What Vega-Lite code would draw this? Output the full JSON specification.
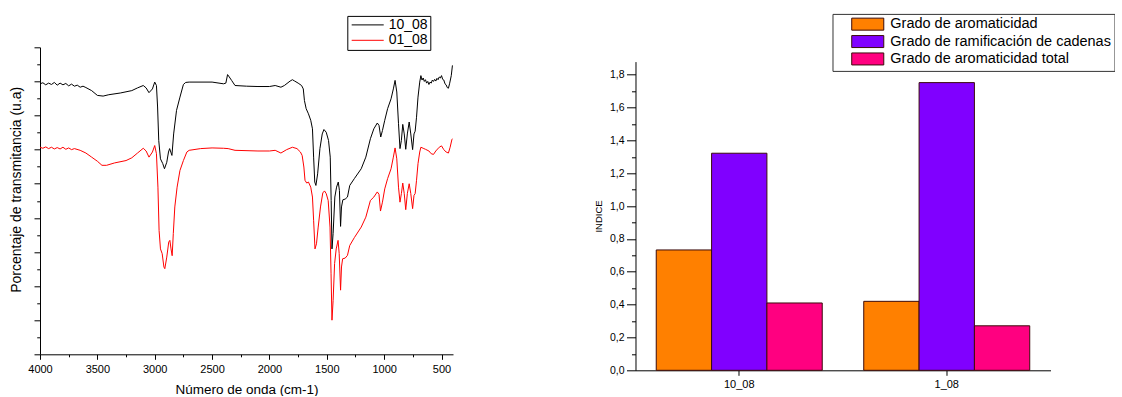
{
  "$schema": "https://vega.github.io/schema/vega-lite/v6.json",
  "padding": {"left": 9, "top": 13.3, "right": 0, "bottom": 0},
  "spacing": 137.5,
  "resolve": {"scale": {"color": "independent"}, "legend": {"color": "independent"}},
  "config": {
    "font": "Liberation Sans",
    "view": {"stroke": null},
    "axis": {
      "grid": false,
      "domainColor": "#000000",
      "tickColor": "#000000",
      "labelColor": "#000000",
      "titleColor": "#000000",
      "titleFontWeight": "normal",
      "labelFont": "Liberation Sans",
      "titleFont": "Liberation Sans",
      "labelFlush": false,
      "labelOverlap": false
    },
    "legend": {"labelFont": "Liberation Sans", "labelColor": "#000000"}
  },
  "datasets": {
    "espectros": [
      {"wn": 4000, "t": 7.93, "s": "10_08"}, {"wn": 3975, "t": 7.96, "s": "10_08"}, {"wn": 3950, "t": 7.9, "s": "10_08"},
      {"wn": 3925, "t": 7.95, "s": "10_08"}, {"wn": 3900, "t": 7.91, "s": "10_08"}, {"wn": 3875, "t": 7.97, "s": "10_08"},
      {"wn": 3850, "t": 7.89, "s": "10_08"}, {"wn": 3825, "t": 7.95, "s": "10_08"}, {"wn": 3800, "t": 7.9, "s": "10_08"},
      {"wn": 3775, "t": 7.94, "s": "10_08"}, {"wn": 3750, "t": 7.87, "s": "10_08"}, {"wn": 3725, "t": 7.92, "s": "10_08"},
      {"wn": 3700, "t": 7.86, "s": "10_08"}, {"wn": 3675, "t": 7.89, "s": "10_08"}, {"wn": 3650, "t": 7.83, "s": "10_08"},
      {"wn": 3625, "t": 7.86, "s": "10_08"}, {"wn": 3600, "t": 7.82, "s": "10_08"},
      {"wn": 3550, "t": 7.73, "s": "10_08"}, {"wn": 3500, "t": 7.59, "s": "10_08"}, {"wn": 3450, "t": 7.57, "s": "10_08"},
      {"wn": 3400, "t": 7.61, "s": "10_08"}, {"wn": 3300, "t": 7.66, "s": "10_08"}, {"wn": 3200, "t": 7.73, "s": "10_08"},
      {"wn": 3150, "t": 7.81, "s": "10_08"}, {"wn": 3100, "t": 7.88, "s": "10_08"}, {"wn": 3075, "t": 7.81, "s": "10_08"},
      {"wn": 3050, "t": 7.67, "s": "10_08"}, {"wn": 3020, "t": 7.78, "s": "10_08"}, {"wn": 3000, "t": 7.98, "s": "10_08"},
      {"wn": 2985, "t": 7.88, "s": "10_08"}, {"wn": 2975, "t": 7.25, "s": "10_08"}, {"wn": 2965, "t": 6.27, "s": "10_08"},
      {"wn": 2950, "t": 5.73, "s": "10_08"}, {"wn": 2930, "t": 5.59, "s": "10_08"}, {"wn": 2915, "t": 5.44, "s": "10_08"},
      {"wn": 2895, "t": 5.63, "s": "10_08"}, {"wn": 2880, "t": 5.93, "s": "10_08"}, {"wn": 2870, "t": 6.03, "s": "10_08"},
      {"wn": 2860, "t": 5.93, "s": "10_08"}, {"wn": 2850, "t": 5.83, "s": "10_08"}, {"wn": 2835, "t": 6.46, "s": "10_08"},
      {"wn": 2810, "t": 7.15, "s": "10_08"}, {"wn": 2780, "t": 7.54, "s": "10_08"}, {"wn": 2750, "t": 7.91, "s": "10_08"},
      {"wn": 2730, "t": 7.97, "s": "10_08"}, {"wn": 2700, "t": 7.98, "s": "10_08"}, {"wn": 2500, "t": 7.98, "s": "10_08"},
      {"wn": 2400, "t": 7.93, "s": "10_08"}, {"wn": 2380, "t": 7.95, "s": "10_08"}, {"wn": 2365, "t": 8.2, "s": "10_08"},
      {"wn": 2350, "t": 8.13, "s": "10_08"}, {"wn": 2330, "t": 8.03, "s": "10_08"}, {"wn": 2300, "t": 7.88, "s": "10_08"},
      {"wn": 2200, "t": 7.86, "s": "10_08"}, {"wn": 2100, "t": 7.85, "s": "10_08"}, {"wn": 2000, "t": 7.85, "s": "10_08"},
      {"wn": 1950, "t": 7.88, "s": "10_08"}, {"wn": 1900, "t": 7.83, "s": "10_08"}, {"wn": 1870, "t": 7.88, "s": "10_08"},
      {"wn": 1820, "t": 8.01, "s": "10_08"}, {"wn": 1800, "t": 8.05, "s": "10_08"}, {"wn": 1780, "t": 8.01, "s": "10_08"},
      {"wn": 1750, "t": 7.95, "s": "10_08"}, {"wn": 1720, "t": 7.88, "s": "10_08"}, {"wn": 1705, "t": 7.78, "s": "10_08"},
      {"wn": 1695, "t": 7.44, "s": "10_08"}, {"wn": 1680, "t": 7.2, "s": "10_08"}, {"wn": 1660, "t": 7.05, "s": "10_08"},
      {"wn": 1640, "t": 6.86, "s": "10_08"}, {"wn": 1625, "t": 6.61, "s": "10_08"}, {"wn": 1615, "t": 5.78, "s": "10_08"},
      {"wn": 1605, "t": 5.05, "s": "10_08"}, {"wn": 1595, "t": 4.95, "s": "10_08"}, {"wn": 1580, "t": 5.29, "s": "10_08"},
      {"wn": 1560, "t": 6.03, "s": "10_08"}, {"wn": 1540, "t": 6.46, "s": "10_08"}, {"wn": 1525, "t": 6.59, "s": "10_08"},
      {"wn": 1505, "t": 6.51, "s": "10_08"}, {"wn": 1485, "t": 6.27, "s": "10_08"}, {"wn": 1470, "t": 5.78, "s": "10_08"},
      {"wn": 1462, "t": 4.51, "s": "10_08"}, {"wn": 1455, "t": 3.09, "s": "10_08"}, {"wn": 1445, "t": 3.54, "s": "10_08"},
      {"wn": 1430, "t": 4.61, "s": "10_08"}, {"wn": 1415, "t": 4.9, "s": "10_08"}, {"wn": 1400, "t": 5.05, "s": "10_08"},
      {"wn": 1390, "t": 4.8, "s": "10_08"}, {"wn": 1380, "t": 3.75, "s": "10_08"}, {"wn": 1372, "t": 4.32, "s": "10_08"},
      {"wn": 1360, "t": 4.53, "s": "10_08"}, {"wn": 1340, "t": 4.55, "s": "10_08"}, {"wn": 1320, "t": 4.61, "s": "10_08"},
      {"wn": 1300, "t": 4.95, "s": "10_08"}, {"wn": 1260, "t": 5.15, "s": "10_08"}, {"wn": 1200, "t": 5.44, "s": "10_08"},
      {"wn": 1160, "t": 5.78, "s": "10_08"}, {"wn": 1120, "t": 6.32, "s": "10_08"}, {"wn": 1090, "t": 6.61, "s": "10_08"},
      {"wn": 1060, "t": 6.78, "s": "10_08"}, {"wn": 1045, "t": 6.71, "s": "10_08"}, {"wn": 1030, "t": 6.37, "s": "10_08"},
      {"wn": 1015, "t": 6.56, "s": "10_08"}, {"wn": 995, "t": 6.86, "s": "10_08"}, {"wn": 970, "t": 7.2, "s": "10_08"},
      {"wn": 940, "t": 7.49, "s": "10_08"}, {"wn": 920, "t": 7.78, "s": "10_08"}, {"wn": 905, "t": 8.03, "s": "10_08"},
      {"wn": 890, "t": 7.69, "s": "10_08"}, {"wn": 875, "t": 6.76, "s": "10_08"}, {"wn": 862, "t": 6.03, "s": "10_08"},
      {"wn": 850, "t": 6.27, "s": "10_08"}, {"wn": 838, "t": 6.74, "s": "10_08"}, {"wn": 825, "t": 6.46, "s": "10_08"},
      {"wn": 812, "t": 6.01, "s": "10_08"}, {"wn": 798, "t": 6.46, "s": "10_08"}, {"wn": 782, "t": 6.81, "s": "10_08"},
      {"wn": 768, "t": 6.46, "s": "10_08"}, {"wn": 752, "t": 6.0, "s": "10_08"}, {"wn": 740, "t": 6.46, "s": "10_08"},
      {"wn": 730, "t": 6.54, "s": "10_08"}, {"wn": 718, "t": 6.95, "s": "10_08"}, {"wn": 705, "t": 7.54, "s": "10_08"},
      {"wn": 690, "t": 7.98, "s": "10_08"}, {"wn": 680, "t": 8.17, "s": "10_08"}, {"wn": 670, "t": 8.04, "s": "10_08"},
      {"wn": 660, "t": 8.1, "s": "10_08"}, {"wn": 650, "t": 8.0, "s": "10_08"}, {"wn": 640, "t": 8.05, "s": "10_08"},
      {"wn": 630, "t": 7.95, "s": "10_08"}, {"wn": 620, "t": 8.0, "s": "10_08"}, {"wn": 610, "t": 7.91, "s": "10_08"},
      {"wn": 600, "t": 7.98, "s": "10_08"}, {"wn": 590, "t": 7.95, "s": "10_08"}, {"wn": 580, "t": 8.04, "s": "10_08"},
      {"wn": 570, "t": 8.0, "s": "10_08"}, {"wn": 560, "t": 8.06, "s": "10_08"}, {"wn": 550, "t": 8.01, "s": "10_08"},
      {"wn": 540, "t": 8.09, "s": "10_08"}, {"wn": 530, "t": 8.05, "s": "10_08"}, {"wn": 520, "t": 8.13, "s": "10_08"},
      {"wn": 510, "t": 8.1, "s": "10_08"}, {"wn": 500, "t": 8.17, "s": "10_08"}, {"wn": 490, "t": 8.06, "s": "10_08"},
      {"wn": 480, "t": 8.04, "s": "10_08"}, {"wn": 470, "t": 7.93, "s": "10_08"}, {"wn": 460, "t": 7.9, "s": "10_08"},
      {"wn": 450, "t": 7.82, "s": "10_08"}, {"wn": 440, "t": 7.8, "s": "10_08"}, {"wn": 430, "t": 7.93, "s": "10_08"},
      {"wn": 415, "t": 8.17, "s": "10_08"}, {"wn": 405, "t": 8.47, "s": "10_08"},

      {"wn": 4000, "t": 6.07, "s": "01_08"}, {"wn": 3975, "t": 6.04, "s": "01_08"}, {"wn": 3950, "t": 6.08, "s": "01_08"},
      {"wn": 3925, "t": 6.03, "s": "01_08"}, {"wn": 3900, "t": 6.07, "s": "01_08"}, {"wn": 3875, "t": 6.02, "s": "01_08"},
      {"wn": 3850, "t": 6.06, "s": "01_08"}, {"wn": 3825, "t": 6.02, "s": "01_08"}, {"wn": 3800, "t": 6.07, "s": "01_08"},
      {"wn": 3775, "t": 6.01, "s": "01_08"}, {"wn": 3750, "t": 6.05, "s": "01_08"}, {"wn": 3725, "t": 6.0, "s": "01_08"},
      {"wn": 3700, "t": 6.03, "s": "01_08"}, {"wn": 3650, "t": 5.98, "s": "01_08"}, {"wn": 3600, "t": 5.9, "s": "01_08"},
      {"wn": 3550, "t": 5.78, "s": "01_08"}, {"wn": 3500, "t": 5.66, "s": "01_08"}, {"wn": 3460, "t": 5.54, "s": "01_08"},
      {"wn": 3420, "t": 5.54, "s": "01_08"}, {"wn": 3350, "t": 5.61, "s": "01_08"}, {"wn": 3250, "t": 5.68, "s": "01_08"},
      {"wn": 3200, "t": 5.76, "s": "01_08"}, {"wn": 3150, "t": 5.9, "s": "01_08"}, {"wn": 3100, "t": 6.04, "s": "01_08"},
      {"wn": 3075, "t": 5.96, "s": "01_08"}, {"wn": 3050, "t": 5.78, "s": "01_08"}, {"wn": 3020, "t": 5.93, "s": "01_08"},
      {"wn": 3000, "t": 6.12, "s": "01_08"}, {"wn": 2985, "t": 5.88, "s": "01_08"}, {"wn": 2972, "t": 4.9, "s": "01_08"},
      {"wn": 2962, "t": 3.63, "s": "01_08"}, {"wn": 2950, "t": 3.09, "s": "01_08"}, {"wn": 2935, "t": 2.95, "s": "01_08"},
      {"wn": 2920, "t": 2.56, "s": "01_08"}, {"wn": 2912, "t": 2.51, "s": "01_08"}, {"wn": 2895, "t": 2.85, "s": "01_08"},
      {"wn": 2878, "t": 3.29, "s": "01_08"}, {"wn": 2868, "t": 3.34, "s": "01_08"}, {"wn": 2858, "t": 3.09, "s": "01_08"},
      {"wn": 2848, "t": 2.89, "s": "01_08"}, {"wn": 2838, "t": 3.54, "s": "01_08"}, {"wn": 2825, "t": 4.32, "s": "01_08"},
      {"wn": 2805, "t": 4.9, "s": "01_08"}, {"wn": 2780, "t": 5.39, "s": "01_08"}, {"wn": 2750, "t": 5.68, "s": "01_08"},
      {"wn": 2720, "t": 5.93, "s": "01_08"}, {"wn": 2700, "t": 5.98, "s": "01_08"}, {"wn": 2600, "t": 6.03, "s": "01_08"},
      {"wn": 2500, "t": 6.05, "s": "01_08"}, {"wn": 2400, "t": 6.04, "s": "01_08"}, {"wn": 2360, "t": 6.03, "s": "01_08"},
      {"wn": 2300, "t": 5.98, "s": "01_08"}, {"wn": 2100, "t": 5.96, "s": "01_08"}, {"wn": 2000, "t": 5.96, "s": "01_08"},
      {"wn": 1950, "t": 5.98, "s": "01_08"}, {"wn": 1900, "t": 5.9, "s": "01_08"}, {"wn": 1850, "t": 6.0, "s": "01_08"},
      {"wn": 1800, "t": 6.07, "s": "01_08"}, {"wn": 1760, "t": 6.03, "s": "01_08"}, {"wn": 1730, "t": 5.93, "s": "01_08"},
      {"wn": 1715, "t": 5.83, "s": "01_08"}, {"wn": 1700, "t": 5.49, "s": "01_08"}, {"wn": 1690, "t": 5.1, "s": "01_08"},
      {"wn": 1675, "t": 5.02, "s": "01_08"}, {"wn": 1660, "t": 5.05, "s": "01_08"}, {"wn": 1640, "t": 4.9, "s": "01_08"},
      {"wn": 1625, "t": 4.61, "s": "01_08"}, {"wn": 1615, "t": 3.93, "s": "01_08"}, {"wn": 1603, "t": 3.09, "s": "01_08"},
      {"wn": 1590, "t": 3.24, "s": "01_08"}, {"wn": 1575, "t": 3.73, "s": "01_08"}, {"wn": 1555, "t": 4.32, "s": "01_08"},
      {"wn": 1535, "t": 4.73, "s": "01_08"}, {"wn": 1520, "t": 4.79, "s": "01_08"}, {"wn": 1505, "t": 4.71, "s": "01_08"},
      {"wn": 1488, "t": 4.51, "s": "01_08"}, {"wn": 1472, "t": 3.73, "s": "01_08"}, {"wn": 1463, "t": 2.36, "s": "01_08"},
      {"wn": 1455, "t": 1.0, "s": "01_08"}, {"wn": 1445, "t": 1.58, "s": "01_08"}, {"wn": 1432, "t": 2.66, "s": "01_08"},
      {"wn": 1418, "t": 3.09, "s": "01_08"}, {"wn": 1402, "t": 3.34, "s": "01_08"}, {"wn": 1392, "t": 2.95, "s": "01_08"},
      {"wn": 1380, "t": 1.88, "s": "01_08"}, {"wn": 1372, "t": 2.56, "s": "01_08"}, {"wn": 1362, "t": 2.8, "s": "01_08"},
      {"wn": 1340, "t": 2.82, "s": "01_08"}, {"wn": 1320, "t": 2.9, "s": "01_08"}, {"wn": 1300, "t": 3.19, "s": "01_08"},
      {"wn": 1260, "t": 3.42, "s": "01_08"}, {"wn": 1200, "t": 3.73, "s": "01_08"}, {"wn": 1160, "t": 4.02, "s": "01_08"},
      {"wn": 1120, "t": 4.51, "s": "01_08"}, {"wn": 1090, "t": 4.61, "s": "01_08"}, {"wn": 1060, "t": 4.76, "s": "01_08"},
      {"wn": 1045, "t": 4.69, "s": "01_08"}, {"wn": 1032, "t": 4.2, "s": "01_08"}, {"wn": 1015, "t": 4.46, "s": "01_08"},
      {"wn": 995, "t": 4.85, "s": "01_08"}, {"wn": 970, "t": 5.15, "s": "01_08"}, {"wn": 940, "t": 5.44, "s": "01_08"},
      {"wn": 920, "t": 5.78, "s": "01_08"}, {"wn": 905, "t": 6.05, "s": "01_08"}, {"wn": 890, "t": 5.73, "s": "01_08"},
      {"wn": 875, "t": 4.9, "s": "01_08"}, {"wn": 862, "t": 4.46, "s": "01_08"}, {"wn": 850, "t": 4.71, "s": "01_08"},
      {"wn": 838, "t": 5.02, "s": "01_08"}, {"wn": 825, "t": 4.71, "s": "01_08"}, {"wn": 812, "t": 4.24, "s": "01_08"},
      {"wn": 798, "t": 4.71, "s": "01_08"}, {"wn": 782, "t": 5.0, "s": "01_08"}, {"wn": 768, "t": 4.71, "s": "01_08"},
      {"wn": 752, "t": 4.27, "s": "01_08"}, {"wn": 740, "t": 4.66, "s": "01_08"}, {"wn": 730, "t": 4.71, "s": "01_08"},
      {"wn": 718, "t": 5.1, "s": "01_08"}, {"wn": 705, "t": 5.59, "s": "01_08"}, {"wn": 690, "t": 5.93, "s": "01_08"},
      {"wn": 680, "t": 6.07, "s": "01_08"}, {"wn": 660, "t": 6.04, "s": "01_08"}, {"wn": 640, "t": 6.01, "s": "01_08"},
      {"wn": 610, "t": 5.96, "s": "01_08"}, {"wn": 590, "t": 5.88, "s": "01_08"}, {"wn": 570, "t": 5.86, "s": "01_08"},
      {"wn": 550, "t": 5.96, "s": "01_08"}, {"wn": 520, "t": 6.07, "s": "01_08"}, {"wn": 500, "t": 6.11, "s": "01_08"},
      {"wn": 480, "t": 6.0, "s": "01_08"}, {"wn": 460, "t": 5.93, "s": "01_08"}, {"wn": 440, "t": 5.9, "s": "01_08"},
      {"wn": 425, "t": 6.07, "s": "01_08"}, {"wn": 410, "t": 6.29, "s": "01_08"}, {"wn": 405, "t": 6.32, "s": "01_08"}
    ],
    "indices": [
      {"muestra": "10_08", "indice": "Grado de aromaticidad", "valor": 0.733},
      {"muestra": "10_08", "indice": "Grado de ramificación de cadenas", "valor": 1.322},
      {"muestra": "10_08", "indice": "Grado de aromaticidad total", "valor": 0.41},
      {"muestra": "1_08", "indice": "Grado de aromaticidad", "valor": 0.42},
      {"muestra": "1_08", "indice": "Grado de ramificación de cadenas", "valor": 1.752},
      {"muestra": "1_08", "indice": "Grado de aromaticidad total", "valor": 0.271}
    ]
  },
  "hconcat": [
    {
      "width": 413,
      "height": 307,
      "data": {"name": "espectros"},
      "layer": [
        {
          "mark": {"type": "line", "strokeWidth": 1},
          "encoding": {
            "x": {
              "field": "wn", "type": "quantitative",
              "scale": {"domain": [400, 4000], "reverse": true, "nice": false, "zero": false},
              "axis": {
                "orient": "bottom",
                "title": "Número de onda (cm-1)",
                "values": [4000, 3500, 3000, 2500, 2000, 1500, 1000, 500],
                "format": "d",
                "labelFontSize": 11, "titleFontSize": 13.5,
                "tickSize": 5, "labelPadding": 4, "titlePadding": 8
              }
            },
            "y": {
              "field": "t", "type": "quantitative",
              "scale": {"domain": [0, 9], "nice": false, "zero": false},
              "axis": {
                "orient": "left",
                "title": "Porcentaje de transmitancia (u.a)",
                "values": [0, 1, 2, 3, 4, 5, 6, 7, 8, 9],
                "labels": false, "tickSize": 6,
                "titleFontSize": 14, "titleBaseline": "middle",
                "titleX": -24, "titleY": 142
              }
            },
            "color": {
              "field": "s", "type": "nominal",
              "scale": {"domain": ["10_08", "01_08"], "range": ["#000000", "#ff0000"]},
              "legend": {
                "orient": "none", "legendX": 307.3, "legendY": -31.4,
                "title": null, "symbolType": "M-2.67,0H2.67", "symbolSize": 144,
                "symbolStrokeWidth": 1, "labelFontSize": 14,
                "strokeColor": "#000000", "fillColor": "#ffffff",
                "padding": 2, "symbolOffset": 11.4, "rowPadding": 1.4, "labelOffset": 14
              }
            }
          }
        },
        {
          "mark": {"type": "line", "strokeOpacity": 0},
          "encoding": {
            "x": {
              "field": "wn", "type": "quantitative",
              "axis": {
                "orient": "bottom", "title": null, "labels": false, "domain": false,
                "values": [3750, 3250, 2750, 2250, 1750, 1250, 750], "tickSize": 2.5
              }
            },
            "y": {
              "field": "t", "type": "quantitative",
              "axis": {
                "orient": "left", "title": null, "labels": false, "domain": false,
                "values": [0.5, 1.5, 2.5, 3.5, 4.5, 5.5, 6.5, 7.5, 8.5], "tickSize": 3.3
              }
            },
            "detail": {"field": "s"}
          }
        }
      ],
      "resolve": {"axis": {"x": "independent", "y": "independent"}}
    },
    {
      "width": 415,
      "height": 323,
      "data": {"name": "indices"},
      "layer": [
        {
          "mark": {"type": "bar", "stroke": "#3b0b0b", "strokeWidth": 1},
          "encoding": {
            "x": {
              "field": "muestra", "type": "nominal", "sort": ["10_08", "1_08"],
              "scale": {"paddingInner": 0.2, "paddingOuter": 0.1},
              "axis": {
                "orient": "bottom", "title": null, "labelAngle": 0,
                "labelFontSize": 11, "tickSize": 5, "labelPadding": 3.5
              }
            },
            "xOffset": {
              "field": "indice", "type": "nominal",
              "sort": ["Grado de aromaticidad", "Grado de ramificación de cadenas", "Grado de aromaticidad total"],
              "scale": {"paddingInner": 0, "paddingOuter": 0}
            },
            "y": {
              "field": "valor", "type": "quantitative",
              "scale": {"domain": [0, 1.88], "nice": false, "range": [323, 14.3]},
              "axis": {
                "orient": "left", "title": "INDICE",
                "values": [0, 0.2, 0.4, 0.6, 0.8, 1.0, 1.2, 1.4, 1.6, 1.8],
                "labelExpr": "replace(format(datum.value, '.1f'), '.', ',')",
                "tickSize": 9, "labelFontSize": 10.5, "labelPadding": 2.5,
                "titleFontSize": 9.5, "titlePadding": 6
              }
            },
            "color": {
              "field": "indice", "type": "nominal",
              "sort": ["Grado de aromaticidad", "Grado de ramificación de cadenas", "Grado de aromaticidad total"],
              "scale": {
                "domain": ["Grado de aromaticidad", "Grado de ramificación de cadenas", "Grado de aromaticidad total"],
                "range": ["#ff8000", "#8000ff", "#ff0080"]
              },
              "legend": {
                "orient": "none", "legendX": 197, "legendY": -33.4,
                "title": null, "symbolType": "M-2.67,-1H2.67V1H-2.67Z", "symbolSize": 144,
                "symbolStrokeColor": "#3b0b0b", "symbolStrokeWidth": 1, "symbolOpacity": 1,
                "labelFontSize": 14.5, "strokeColor": "#333333", "fillColor": "#ffffff",
                "padding": 3, "symbolOffset": 25, "rowPadding": 0.4, "labelOffset": 15.3,
                "labelLimit": 400
              }
            }
          }
        },
        {
          "mark": {"type": "bar", "opacity": 0},
          "encoding": {
            "x": {
              "field": "muestra", "type": "nominal", "sort": ["10_08", "1_08"],
              "axis": null
            },
            "xOffset": {
              "field": "indice", "type": "nominal",
              "sort": ["Grado de aromaticidad", "Grado de ramificación de cadenas", "Grado de aromaticidad total"]
            },
            "y": {
              "field": "valor", "type": "quantitative",
              "axis": {
                "orient": "left", "title": null, "labels": false, "domain": false,
                "values": [0.1, 0.3, 0.5, 0.7, 0.9, 1.1, 1.3, 1.5, 1.7], "tickSize": 4
              }
            }
          }
        }
      ],
      "resolve": {"axis": {"x": "independent", "y": "independent"}}
    }
  ]
}
